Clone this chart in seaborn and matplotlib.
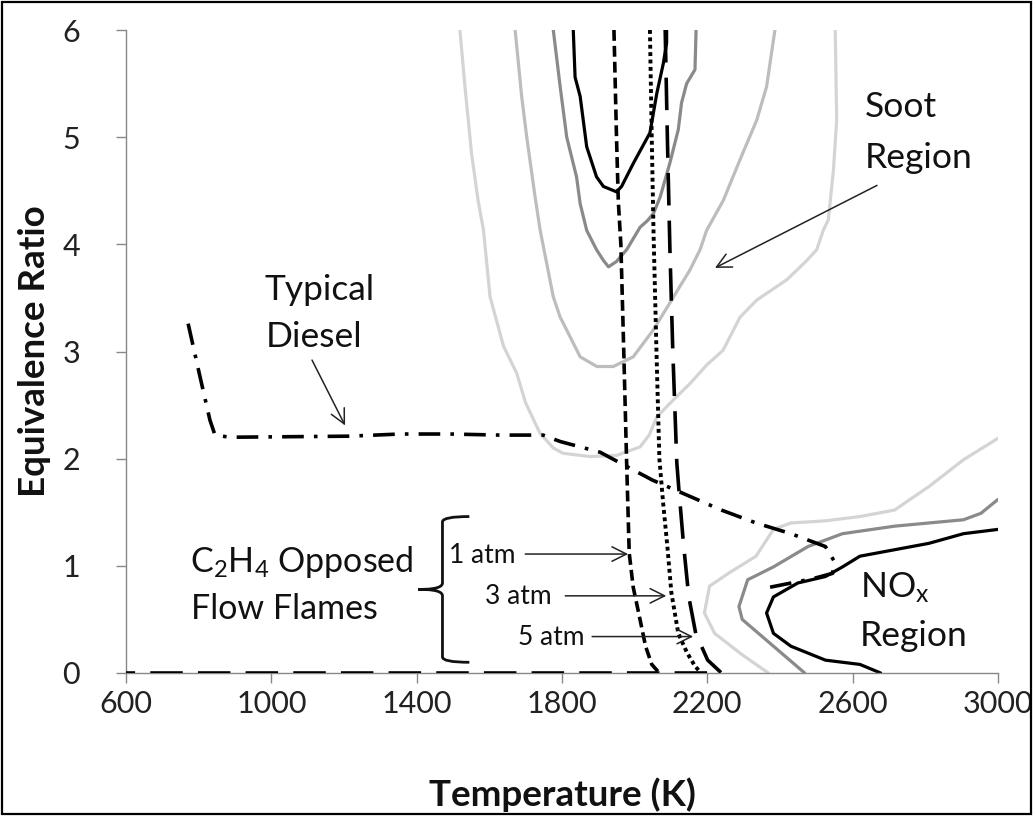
import numpy as np
import pandas as pd
import matplotlib
matplotlib.use("Agg")
import matplotlib.pyplot as plt
from matplotlib.patches import Rectangle, PathPatch
from matplotlib.path import Path
import seaborn as sns

# ---------------- data ----------------
soot1_T = [1519, 1533, 1551, 1569, 1584, 1602, 1639, 1675, 1700, 1739, 1776, 1803, 1877, 1950,
           2015, 2040, 2061, 2107, 2152, 2200, 2243, 2290, 2336, 2419, 2474, 2501, 2519, 2533,
           2547, 2556, 2552]
soot1_phi = [6.0, 5.47, 4.85, 4.41, 4.13, 3.51, 3.05, 2.80, 2.52, 2.24, 2.10, 2.05, 2.02, 2.03,
             2.11, 2.22, 2.39, 2.55, 2.70, 2.88, 3.01, 3.32, 3.48, 3.67, 3.85, 3.95, 4.13, 4.23,
             4.69, 5.16, 6.0]

soot2_T = [1671, 1689, 1703, 1726, 1740, 1758, 1776, 1795, 1813, 1850, 1896, 1941, 1996, 2051,
           2107, 2152, 2180, 2198, 2244, 2290, 2336, 2363, 2386]
soot2_phi = [6.0, 5.38, 5.0, 4.44, 4.13, 3.82, 3.51, 3.32, 3.20, 2.95, 2.86, 2.86, 2.95, 3.20,
             3.51, 3.76, 3.95, 4.13, 4.41, 4.79, 5.16, 5.47, 6.0]

soot3_T = [1776, 1795, 1813, 1840, 1850, 1868, 1895, 1914, 1928, 1950, 1978, 2015, 2035, 2052,
           2070, 2097, 2120, 2129, 2143, 2166, 2169]
soot3_phi = [6.0, 5.47, 5.0, 4.63, 4.38, 4.13, 3.95, 3.85, 3.79, 3.84, 3.95, 4.16, 4.22, 4.29,
             4.44, 4.76, 5.07, 5.32, 5.50, 5.63, 6.0]

soot4_T = [1831, 1836, 1850, 1868, 1895, 1914, 1950, 1964, 1997, 2042, 2061, 2079, 2088, 2088]
soot4_phi = [6.0, 5.56, 5.38, 4.91, 4.63, 4.54, 4.49, 4.54, 4.76, 5.04, 5.41, 5.69, 5.88, 6.0]

nox1_T = [2368, 2296, 2220, 2192, 2206, 2258, 2334, 2382, 2430, 2525, 2620, 2715, 2810, 2905, 3000]
nox1_phi = [0.0, 0.17, 0.37, 0.56, 0.81, 0.93, 1.09, 1.34, 1.40, 1.42, 1.46, 1.52, 1.74, 1.99, 2.19]

nox2_T = [2468, 2382, 2296, 2287, 2311, 2382, 2477, 2572, 2715, 2905, 2953, 3000]
nox2_phi = [0.0, 0.25, 0.50, 0.62, 0.87, 0.99, 1.18, 1.30, 1.37, 1.43, 1.49, 1.62]

nox3_T = [2677, 2620, 2525, 2430, 2382, 2363, 2382, 2449, 2525, 2572, 2620, 2715, 2810, 2905, 3000]
nox3_phi = [0.0, 0.08, 0.12, 0.25, 0.37, 0.56, 0.71, 0.84, 0.90, 0.99, 1.09, 1.15, 1.21, 1.30, 1.34]

atm1_T = [1943, 1950, 1955, 1962, 1970, 1978, 1985, 1996, 2011, 2030, 2047, 2068]
atm1_phi = [6.0, 5.0, 4.4, 4.0, 3.0, 1.95, 1.12, 0.80, 0.56, 0.25, 0.08, 0.0]

atm3_T = [2042, 2047, 2052, 2060, 2068, 2078, 2090, 2101, 2120, 2144, 2165, 2182]
atm3_phi = [6.0, 5.0, 4.1, 3.0, 2.0, 1.6, 1.18, 0.75, 0.37, 0.19, 0.07, 0.0]

atm5_T = [2084, 2090, 2097, 2105, 2116, 2122, 2135, 2149, 2168, 2201, 2239, 600]
atm5_phi = [6.0, 5.0, 3.95, 3.0, 1.96, 1.70, 1.18, 0.71, 0.37, 0.12, 0.0, 0.0]

diesel_T = [771, 804, 831, 845, 886, 1217, 1354, 1492, 1629, 1748, 1795, 1905, 1960, 2049, 2144,
            2239, 2334, 2430, 2525, 2548, 2545, 2490, 2372]
diesel_phi = [3.26, 2.76, 2.36, 2.22, 2.20, 2.21, 2.23, 2.23, 2.22, 2.22, 2.16, 2.06, 1.96, 1.80,
              1.66, 1.52, 1.40, 1.30, 1.18, 1.05, 0.93, 0.88, 0.80]

x_ticks = [600, 1000, 1400, 1800, 2200, 2600, 3000]
y_ticks = [0, 1, 2, 3, 4, 5, 6]

# ---------------- styling ----------------
sns.set_theme(style="white")
plt.rcParams["font.family"] = ["Lato", "DejaVu Sans"]
plt.rcParams["mathtext.fontset"] = "custom"
plt.rcParams["mathtext.rm"] = "Lato"
plt.rcParams["mathtext.it"] = "Lato:italic"
plt.rcParams["mathtext.bf"] = "Lato:bold"

fig = plt.figure(figsize=(10.34, 8.16), dpi=100)
fig.patch.set_facecolor("white")
ax = fig.add_axes([126 / 1034, 1 - 673 / 816, 872 / 1034, 643 / 816])

LIGHT = "#d4d4d4"
LIGHT2 = "#bdbdbd"
MID = "#8a8a8a"
DARK = "#000000"


def draw(T, phi, color, lw, ls="-", cap="butt", z=2):
    df = pd.DataFrame({"T": T, "phi": phi})
    n_before = len(ax.lines)
    sns.lineplot(data=df, x="T", y="phi", sort=False, estimator=None, color=color,
                 linewidth=lw, linestyle=ls, ax=ax, zorder=z)
    for ln in ax.lines[n_before:]:
        ln.set_dash_capstyle(cap)
        ln.set_solid_capstyle("round")
        ln.set_solid_joinstyle("round")


draw(soot1_T, soot1_phi, LIGHT, 2.3)
draw(soot2_T, soot2_phi, LIGHT2, 2.3)
draw(soot3_T, soot3_phi, MID, 2.3)
draw(soot4_T, soot4_phi, DARK, 2.3)
draw(nox1_T, nox1_phi, LIGHT, 2.3)
draw(nox2_T, nox2_phi, MID, 2.3)
draw(nox3_T, nox3_phi, DARK, 2.3)

draw(atm1_T, atm1_phi, DARK, 2.6, (0, (3.0, 1.4)), z=3)
draw(atm3_T, atm3_phi, DARK, 2.8, (0, (1.0, 0.9)), z=3)
draw(atm5_T, atm5_phi, DARK, 2.6, (0, (9.0, 4.2)), z=3)
draw(diesel_T, diesel_phi, DARK, 2.6, (0, (6.0, 2.8, 1.0, 2.8)), z=3)

ax.set_xlim(600, 3000)
ax.set_ylim(0, 6)
ax.set_xticks(x_ticks)
ax.set_yticks(y_ticks)
ax.set_xticklabels([str(v) for v in x_ticks])
ax.set_yticklabels([str(v) for v in y_ticks])

for side in ["top", "right"]:
    ax.spines[side].set_visible(False)
for side in ["left", "bottom"]:
    ax.spines[side].set_color("#888888")
    ax.spines[side].set_linewidth(1.0)
ax.tick_params(axis="both", which="major", direction="out", length=7, width=1.0,
               color="#888888", labelcolor="#222222", labelsize=22, bottom=True, left=True)
ax.tick_params(axis="y", pad=26)
ax.tick_params(axis="x", pad=5)
ax.grid(False)

ax.set_xlabel("Temperature (K)", fontsize=26.5, fontweight="bold", color="#111111")
ax.set_ylabel("Equivalence Ratio", fontsize=26.5, fontweight="bold", color="#111111")
ax.xaxis.set_label_coords(0.5, -0.163)
ax.yaxis.set_label_coords(-0.086, 0.5)

# ---------------- annotations ----------------
TXT = dict(fontsize=25.5, color="#111111", ha="left", va="baseline")
ax.text(2634, 5.19, "Soot", **TXT)
ax.text(2634, 4.71, "Region", **TXT)
ax.text(982, 3.48, "Typical", **TXT)
ax.text(985, 3.04, "Diesel", **TXT)
ax.text(775, 0.94, r"C$_\mathregular{2}$H$_\mathregular{4}$ Opposed", fontsize=24.5,
        color="#111111", ha="left", va="baseline")
ax.text(780, 0.50, "Flow Flames", fontsize=24.5, color="#111111", ha="left", va="baseline")
ax.text(2620, 0.70, r"NO$_\mathregular{x}$", **TXT)
ax.text(2620, 0.25, "Region", **TXT)

SM = dict(fontsize=19, color="#111111", ha="left", va="baseline")
ax.text(1489, 1.03, "1 atm", **SM)
ax.text(1589, 0.64, "3 atm", **SM)
ax.text(1678, 0.26, "5 atm", **SM)

ARW = dict(arrowstyle="->", color="#222222", lw=1.1, mutation_scale=26,
           shrinkA=0, shrinkB=0)
arrows = [((2667, 4.55), (2221, 3.78)),
          ((1112, 2.92), (1203, 2.31)),
          ((1699, 1.11), (1982, 1.11)),
          ((1809, 0.72), (2087, 0.72)),
          ((1883, 0.34), (2161, 0.34))]
for tail, head in arrows:
    ax.annotate("", xy=head, xytext=tail, arrowprops=ARW, zorder=4)

# curly brace
bx, btop, bbot, bmid, btip, bend = 1471, 1.46, 0.10, 0.78, 1404, 1545
verts = [(bend, btop), (bx, btop), (bx, btop - 0.05),
         (bx, bmid + 0.06),
         (bx, bmid), (btip + 20, bmid), (btip, bmid),
         (btip + 20, bmid), (bx, bmid), (bx, bmid - 0.06),
         (bx, bbot + 0.05),
         (bx, bbot), (bend, bbot)]
codes = [Path.MOVETO, Path.CURVE3, Path.CURVE3,
         Path.LINETO,
         Path.CURVE4, Path.CURVE4, Path.CURVE4,
         Path.CURVE4, Path.CURVE4, Path.CURVE4,
         Path.LINETO,
         Path.CURVE3, Path.CURVE3]
ax.add_patch(PathPatch(Path(verts, codes), fill=False, lw=2.0, ec="#111111", zorder=4))

fig.add_artist(Rectangle((0.0015, 0.002), 0.996, 0.996, transform=fig.transFigure,
                         fill=False, lw=1.6, ec="black"))

fig.savefig("out.png", dpi=100, facecolor="white")
